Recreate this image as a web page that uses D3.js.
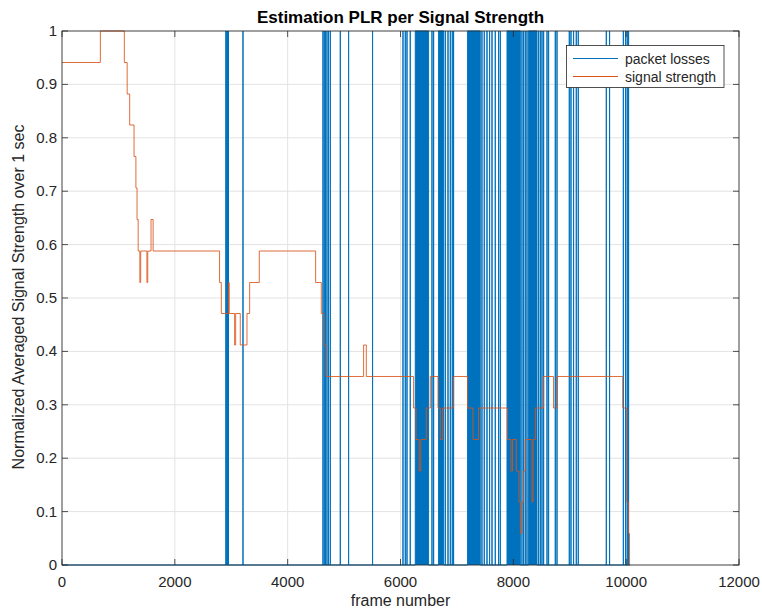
<!DOCTYPE html>
<html>
<head>
<meta charset="utf-8">
<script src="https://cdn.jsdelivr.net/npm/d3@7"></script>
<style>
  html, body { margin: 0; padding: 0; background: #fff; }
  svg { display: block; font-family: "Liberation Sans", Arial, Helvetica, sans-serif; }
</style>
</head>
<body>
<svg id="chart" width="762" height="610"></svg>
<script>
// ---- Data ----
const xTicks = [0, 2000, 4000, 6000, 8000, 10000, 12000];
const yTicks = [0, 0.1, 0.2, 0.3, 0.4, 0.5, 0.6, 0.7, 0.8, 0.9, 1];
const yTickLabels = ["0", "0.1", "0.2", "0.3", "0.4", "0.5", "0.6", "0.7", "0.8", "0.9", "1"];

// Single packet-loss spikes (frame numbers)
const lossFrames = [2905, 2920, 2935, 2950, 3208, 4626, 4649, 4672, 4697, 4725, 4756, 4933, 5080, 5505,
  6044, 6085, 6115, 6173, 6558, 6587, 6794, 6842, 6883, 6918, 6941, 7444, 7485, 7533, 7579, 7622,
  7680, 7739, 7769, 8153, 8182, 8212, 8242, 8448, 8478, 8508, 8537, 8597, 8625, 8744, 8774,
  8992, 9022, 9068, 9116, 9151, 9648, 9706, 9950, 9990, 10020, 10043];
// Dense bursts of packet losses [start frame, end frame]
const lossBurstStart = [6262, 6675, 7189, 7888, 8271];
const lossBurstEnd   = [6498, 6764, 7414, 8124, 8420];
const lossEndFrame = 10065;

// Signal strength step series (value holds from frame until next frame)
const signalFrames = [0, 680, 1105, 1155, 1200, 1277, 1310, 1330, 1350, 1380, 1395, 1505, 1520, 1578, 1615,
  2793, 2824, 2950, 2965, 3060, 3078, 3160, 3279, 3326, 3497, 4496, 4596, 4644, 4680, 5346, 5394,
  6232, 6275, 6330, 6360, 6457, 6528, 6665, 6705, 6746, 6941, 7189, 7285, 7384, 7898, 7958, 7985,
  8053, 8100, 8124, 8153, 8182, 8212, 8331, 8350, 8389, 8536, 8713, 8774, 9940, 10010, 10040, 10060, 10070];
const signalValues = [0.941, 1.0, 0.941, 0.882, 0.824, 0.765, 0.706, 0.647, 0.588, 0.529, 0.588, 0.529, 0.588, 0.647, 0.588,
  0.529, 0.471, 0.529, 0.471, 0.412, 0.471, 0.412, 0.471, 0.529, 0.588, 0.529, 0.471, 0.412, 0.353, 0.412, 0.353,
  0.294, 0.235, 0.176, 0.235, 0.294, 0.353, 0.294, 0.235, 0.294, 0.353, 0.294, 0.235, 0.294, 0.235, 0.176, 0.235,
  0.176, 0.118, 0.059, 0.118, 0.176, 0.235, 0.118, 0.235, 0.294, 0.353, 0.294, 0.353, 0.294, 0.118, 0.059, 0, 0];

const seriesNames = ["packet losses", "signal strength"];
const seriesColors = ["#0072BD", "#D95319"];

// ---- Layout ----
const svg = d3.select("#chart");
const L = 62, R = 739, T = 31, B = 565;
const x = d3.scaleLinear().domain([0, 12000]).range([L, R]);
const y = d3.scaleLinear().domain([0, 1]).range([B, T]);
const ink = "#262626";

// grid
const grid = svg.append("g");
grid.selectAll("line.gx").data(xTicks).enter().append("line")
  .attr("x1", d => x(d)).attr("x2", d => x(d)).attr("y1", T).attr("y2", B)
  .attr("stroke", "#e3e3e3").attr("stroke-width", 1);
grid.selectAll("line.gy").data(yTicks).enter().append("line")
  .attr("y1", d => y(d)).attr("y2", d => y(d)).attr("x1", L).attr("x2", R)
  .attr("stroke", "#e3e3e3").attr("stroke-width", 1);

// plot clip
svg.append("clipPath").attr("id", "clip").append("rect")
  .attr("x", L).attr("y", T - 1).attr("width", R - L).attr("height", B - T + 2);
const plot = svg.append("g").attr("clip-path", "url(#clip)");

// packet losses: events sorted
const events = [];
lossFrames.forEach(f => events.push({s: f, e: f}));
lossBurstStart.forEach((s, i) => events.push({s: s, e: lossBurstEnd[i]}));
events.sort((a, b) => a.s - b.s);
const lossPts = [[0, 0]];
events.forEach(ev => {
  lossPts.push([ev.s, 0], [ev.s, 1], [ev.e, 1], [ev.e, 0]);
});
lossPts.push([lossEndFrame, 0]);

plot.selectAll("rect.burst").data(lossBurstStart).enter().append("rect")
  .attr("x", (d) => x(d))
  .attr("width", (d, i) => x(lossBurstEnd[i]) - x(d))
  .attr("y", y(1)).attr("height", y(0) - y(1))
  .attr("fill", seriesColors[0]);

plot.append("path")
  .attr("d", d3.line().x(d => x(d[0])).y(d => y(d[1]))(lossPts))
  .attr("fill", "none").attr("stroke", seriesColors[0]).attr("stroke-width", 1);

// signal strength
const sigPts = signalFrames.map((f, i) => [f, signalValues[i]]);
plot.append("path")
  .attr("d", d3.line().curve(d3.curveStepAfter).x(d => x(d[0])).y(d => y(d[1]))(sigPts))
  .attr("fill", "none").attr("stroke", seriesColors[1]).attr("stroke-width", 1).attr("stroke-opacity", 0.85);

// axes box and ticks (inward, all four sides)
const ax = svg.append("g").attr("stroke", ink).attr("stroke-width", 0.8).attr("fill", "none");
ax.append("rect").attr("x", L).attr("y", T).attr("width", R - L).attr("height", B - T);
const tl = 6;
xTicks.forEach(t => {
  ax.append("line").attr("x1", x(t)).attr("x2", x(t)).attr("y1", B).attr("y2", B - tl);
  ax.append("line").attr("x1", x(t)).attr("x2", x(t)).attr("y1", T).attr("y2", T + tl);
});
yTicks.forEach(t => {
  ax.append("line").attr("y1", y(t)).attr("y2", y(t)).attr("x1", L).attr("x2", L + tl);
  ax.append("line").attr("y1", y(t)).attr("y2", y(t)).attr("x1", R).attr("x2", R - tl);
});

// tick labels
svg.selectAll("text.xt").data(xTicks).enter().append("text")
  .attr("x", d => x(d)).attr("y", 587).attr("text-anchor", "middle")
  .attr("font-size", 15).attr("fill", ink).text(d => d);
svg.selectAll("text.yt").data(yTicks).enter().append("text")
  .attr("x", 57).attr("y", d => y(d) + 5).attr("text-anchor", "end")
  .attr("font-size", 15).attr("fill", ink).text((d, i) => yTickLabels[i]);

// labels
svg.append("text").attr("x", 400.5).attr("y", 606).attr("text-anchor", "middle")
  .attr("font-size", 16).attr("fill", ink).text("frame number");
svg.append("text").attr("transform", "translate(24,297) rotate(-90)").attr("text-anchor", "middle")
  .attr("font-size", 16).attr("fill", ink).text("Normalized Averaged Signal Strength over 1 sec");
svg.append("text").attr("x", 400.5).attr("y", 23).attr("text-anchor", "middle")
  .attr("font-size", 17).attr("font-weight", "bold").attr("fill", "#000").text("Estimation PLR per Signal Strength");

// legend
const lg = svg.append("g");
lg.append("rect").attr("x", 566.5).attr("y", 45.5).attr("width", 157.5).attr("height", 42)
  .attr("fill", "#fff").attr("stroke", ink).attr("stroke-width", 0.8);
seriesNames.forEach((n, i) => {
  const yy = 58.5 + i * 18;
  lg.append("line").attr("x1", 573).attr("x2", 618).attr("y1", yy).attr("y2", yy)
    .attr("stroke", seriesColors[i]).attr("stroke-width", 1);
  lg.append("text").attr("x", 625).attr("y", yy + 5).attr("font-size", 14).attr("fill", ink).text(n);
});
</script>
</body>
</html>
